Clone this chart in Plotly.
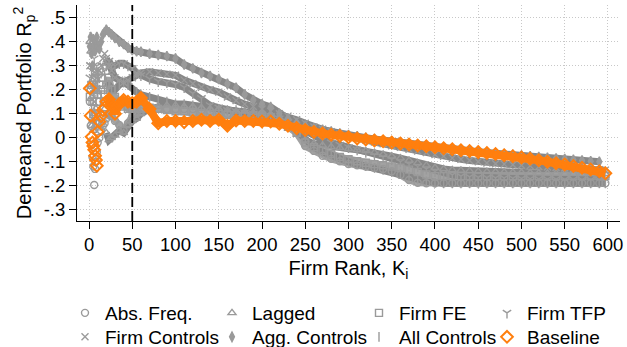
import plotly.graph_objects as go

# ---------------- data ----------------
RANKS = [1, 2, 3, 4, 5, 6, 7, 8, 9, 10, 12, 14, 16, 18, 20, 23, 26, 30, 35, 40, 45, 50, 55,
         60, 70, 80, 90, 100, 110, 120, 130, 140, 150,
         160, 170, 180, 190, 200, 210, 220, 230, 240, 250,
         260, 270, 280, 290, 300, 310, 320, 330, 340, 350,
         360, 370, 380, 390, 400, 410, 420, 430, 440, 450,
         460, 470, 480, 490, 500, 510, 520, 530, 540, 550,
         560, 570, 580, 590, 597]

ABS_FREQ = [.15, .05, -.03, -.08, -.12, -.197, -.13, -.1, -.06, -.02, 0, .03, .05, .06, .08, .1, .09, .07, .053, .03, .06, .09, .1,
            .11, .12, .12, .12, .12, .12, .12, .115, .11, .11,
            .1, .1, .1, .095, .09, .085, .07, .05, .02, -.035,
            -.055, -.075, -.088, -.098, -.11, -.115, -.12, -.125, -.13, -.14,
            -.155, -.176, -.188, -.19, -.19, -.19, -.19, -.19, -.19, -.19,
            -.19, -.19, -.19, -.19, -.19, -.19, -.19, -.19, -.19, -.19,
            -.19, -.19, -.19, -.19, -.19]

LAGGED = [.4, .36, .05, .07, .03, .1, .05, .12, .08, .06, .04, .06, .1, .12, .02, -.01, 0, .01, .03, .02, .05, .07, .08,
          .1, .12, .13, .135, .135, .13, .13, .125, .12, .12,
          .115, .11, .11, .105, .1, .095, .08, .06, .03, -.01,
          -.025, -.032, -.038, -.042, -.046, -.05, -.055, -.062, -.07, -.077,
          -.085, -.095, -.105, -.115, -.125, -.13, -.134, -.136, -.138, -.14,
          -.141, -.142, -.143, -.144, -.145, -.146, -.147, -.148, -.148, -.149,
          -.149, -.15, -.15, -.15, -.15]

FIRM_FE = [.17, .2, .22, .15, .1, .18, .25, .2, .15, .18, .22, .25, .2, .18, .22, .25, .2, .17, .15, .13, .12, .12, .12,
           .12, .125, .12, .115, .11, .11, .105, .1, .1, .1,
           .095, .095, .09, .09, .085, .08, .065, .045, .02, -.02,
           -.04, -.055, -.068, -.08, -.09, -.098, -.104, -.11, -.115, -.12,
           -.125, -.133, -.143, -.153, -.16, -.16, -.16, -.16, -.16, -.16,
           -.16, -.16, -.16, -.16, -.16, -.16, -.16, -.16, -.16, -.16,
           -.16, -.16, -.16, -.16, -.16]

FIRM_TFP = [.25, .3, .28, .22, .3, .33, .27, .25, .3, .28, .25, .27, .3, .28, .3, .32, .3, .3, .31, .31, .3, .29, .27,
            .26, .245, .235, .23, .222, .21, .185, .165, .135, .125,
            .115, .11, .105, .1, .095, .09, .08, .065, .045, .025,
            .008, -.008, -.02, -.03, -.04, -.05, -.06, -.07, -.08, -.09,
            -.1, -.11, -.12, -.13, -.14, -.148, -.155, -.16, -.163, -.165,
            -.166, -.167, -.168, -.169, -.17, -.171, -.172, -.173, -.173, -.174,
            -.174, -.175, -.175, -.175, -.175]

FIRM_CONTROLS = [.3, .22, .18, .25, .2, .15, .22, .28, .25, .2, .28, .3, .33, .35, .33, .3, .28, .25, .24, .23, .24, .25, .26,
                 .27, .275, .27, .265, .26, .24, .225, .21, .2, .19,
                 .17, .155, .14, .13, .12, .11, .1, .09, .075, .06,
                 .045, .035, .025, .015, .005, -.003, -.01, -.018, -.025, -.033,
                 -.04, -.048, -.055, -.062, -.07, -.077, -.085, -.09, -.095, -.1,
                 -.105, -.108, -.11, -.113, -.115, -.117, -.12, -.122, -.124, -.126,
                 -.128, -.13, -.132, -.133, -.135]

AGG_CONTROLS = [.38, .42, .35, .3, .41, .38, .36, .4, .42, .38, .37, .4, .43, .44, .45, .44, .43, .415, .4, .39, .375, .365, .36,
                .358, .35, .345, .34, .33, .305, .289, .27, .257, .245,
                .225, .208, .18, .157, .14, .128, .1, .08, .062, .05,
                .04, .033, .026, .018, .012, .006, 0, -.005, -.01, -.015,
                -.02, -.025, -.03, -.035, -.04, -.044, -.048, -.052, -.055, -.058,
                -.062, -.065, -.068, -.071, -.074, -.077, -.08, -.083, -.086, -.089,
                -.092, -.095, -.098, -.1, None]

ALL_CONTROLS = [.1, .15, .12, .08, .05, .12, .1, .16, .2, .22, .2, .17, .15, .2, .23, .22, .2, .2, .22, .23, .22, .2, .19,
                .18, .17, .16, .15, .14, .14, .135, .13, .125, .12,
                .115, .115, .11, .105, .1, .09, .075, .055, .03, -.005,
                -.04, -.06, -.075, -.088, -.1, -.11, -.118, -.126, -.134, -.142,
                -.15, -.16, -.172, -.182, -.188, -.19, -.19, -.19, -.19, -.19,
                -.19, -.19, -.19, -.19, -.19, -.19, -.19, -.19, -.19, -.19,
                -.19, -.19, -.19, -.19, -.19]

BASELINE = [.206, .092, .004, -.02, -.035, -.05, -.075, -.093, -.117, .025, .067, .09, .115, .125, .15, .16, .14, .1, .14, .157, .15, .145, .15,
            .165, .12, .06, .07, .07, .065, .07, .075, .07, .075,
            .05, .072, .07, .07, .068, .068, .058, .05, .04, .032,
            .024, .018, .012, .007, .002, -.003, -.007, -.012, -.015, -.02,
            -.024, -.028, -.032, -.036, -.04, -.044, -.048, -.052, -.055, -.06,
            -.064, -.068, -.073, -.077, -.082, -.088, -.094, -.1, -.106, -.112,
            -.118, -.125, -.132, -.14, -.148]

CUTOFF_RANK = 50

X_TICKS = [0, 50, 100, 150, 200, 250, 300, 350, 400, 450, 500, 550, 600]
Y_TICKS = [-0.3, -0.2, -0.1, 0, 0.1, 0.2, 0.3, 0.4, 0.5]
Y_TICK_TEXT = ["-.3", "-.2", "-.1", "0", ".1", ".2", ".3", ".4", ".5"]

# ---------------- styling ----------------
FONT = "Liberation Sans, Arial, sans-serif"
GRAY = "#878787"
GRAY_LIGHT = "#a2a2a2"
MARK = "#9a9a9a"
ORANGE = "#ff7f0e"

W, H = 627, 347
ML, MR, MT, MB = 77, 7, 5, 126
PW, PH = W - ML - MR, H - MT - MB

gray_series = [
    ("Abs. Freq.", ABS_FREQ, "circle-open", GRAY_LIGHT, "legend"),
    ("Lagged", LAGGED, "triangle-up-open", GRAY, "legend2"),
    ("Firm FE", FIRM_FE, "square-open", GRAY_LIGHT, "legend3"),
    ("Firm TFP", FIRM_TFP, "y-down-open", GRAY, "legend4"),
    ("Firm Controls", FIRM_CONTROLS, "x-thin-open", GRAY, "legend5"),
    ("Agg. Controls", AGG_CONTROLS, "diamond-tall", GRAY, "legend6"),
    ("All Controls", ALL_CONTROLS, "line-ns-open", GRAY, "legend7"),
]

START = RANKS.index(20)

fig = go.Figure()

# band lines (no legend)
for name, vals, sym, col, lg in gray_series:
    fig.add_trace(go.Scatter(x=RANKS[START:], y=vals[START:], mode="lines",
                             line=dict(color=col, width=7), showlegend=False,
                             hoverinfo="skip"))

# gray markers (with legend)
for name, vals, sym, col, lg in gray_series:
    fig.add_trace(go.Scatter(x=RANKS, y=vals, mode="markers", name=name,
                             marker=dict(symbol=sym, size=7, color=MARK,
                                         line=dict(color=MARK, width=1.4)),
                             legend=lg))

# baseline
OSTART = RANKS.index(20)
fig.add_trace(go.Scatter(x=RANKS[OSTART:], y=BASELINE[OSTART:], mode="lines",
                         line=dict(color=ORANGE, width=8), showlegend=False,
                         hoverinfo="skip"))
fig.add_trace(go.Scatter(x=RANKS, y=BASELINE, mode="markers", name="Baseline",
                         marker=dict(symbol="diamond-open", size=9, color=ORANGE,
                                     line=dict(color=ORANGE, width=2)),
                         legend="legend8"))

fig.add_vline(x=CUTOFF_RANK, line=dict(color="black", width=1.8, dash="10px,4px"))

# legend positions: 4 columns x 2 rows
COL_TEXT_X = [105, 252, 399, 527]
ROW_Y = [313, 337]
legend_layout = {}
names = ["legend", "legend2", "legend3", "legend4", "legend5", "legend6", "legend7", "legend8"]
for i, lg in enumerate(names):
    r, c = divmod(i, 4)
    legend_layout[lg] = dict(
        x=(COL_TEXT_X[c] - 40 - ML) / PW,
        y=(MT + PH - ROW_Y[r]) / PH,
        xanchor="left", yanchor="middle",
        bgcolor="rgba(0,0,0,0)", borderwidth=0,
        font=dict(family=FONT, size=19, color="black"),
        itemwidth=30,
    )

fig.update_layout(
    width=W, height=H,
    margin=dict(l=ML, r=MR, t=MT, b=MB, autoexpand=False),
    paper_bgcolor="white", plot_bgcolor="white",
    font=dict(family=FONT, color="black"),
    **legend_layout,
)

fig.update_xaxes(
    range=[-13.9, 613.9], tickvals=X_TICKS,
    ticks="outside", ticklen=7, tickwidth=1, tickcolor="black",
    tickfont=dict(size=18.5, family=FONT, color="black"),
    showline=True, linecolor="black", linewidth=1,
    showgrid=True, gridcolor="#c8c8c8", gridwidth=1, griddash="1px,2px",
    zeroline=False,
    title=dict(text="Firm Rank, K<sub>i</sub>", font=dict(size=20, family=FONT, color="black"), standoff=6),
)
fig.update_yaxes(
    range=[-0.347, 0.553], tickvals=Y_TICKS, ticktext=Y_TICK_TEXT,
    ticks="outside", ticklen=7, tickwidth=1, tickcolor="black",
    tickfont=dict(size=18.5, family=FONT, color="black"),
    showline=True, linecolor="black", linewidth=1,
    showgrid=True, gridcolor="#c8c8c8", gridwidth=1, griddash="1px,2px",
    zeroline=False,
    title=dict(text="Demeaned Portfolio R<sub>p</sub><sup>2</sup>", font=dict(size=20, family=FONT, color="black"), standoff=6),
)

fig.write_html("out.html")
